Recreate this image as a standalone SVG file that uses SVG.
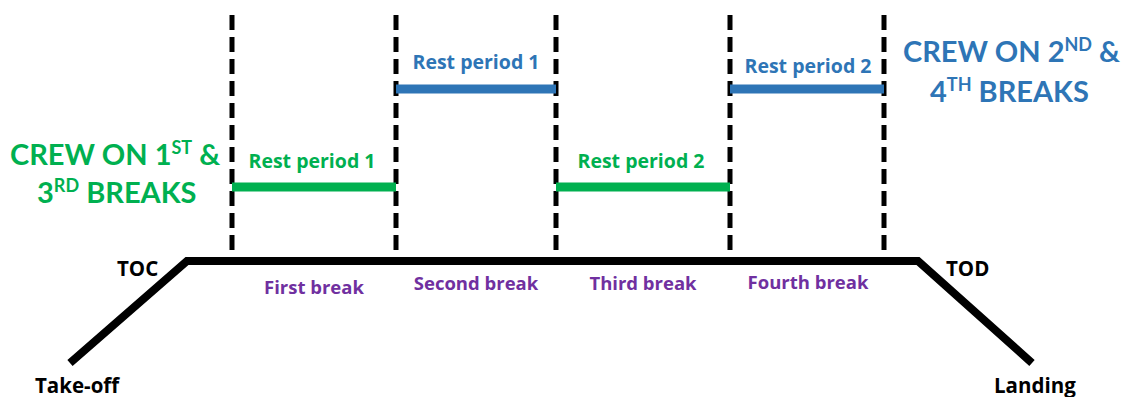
<svg xmlns="http://www.w3.org/2000/svg" width="1130" height="397" viewBox="0 0 1130 397">
<style>
text{font-family:"Open Sans",Lato,"Liberation Sans",sans-serif;font-weight:bold}
.blk{fill:#000;font-size:20.5px}
.pur{fill:#7030A0;font-size:18.5px}
.grn{fill:#00B050}
.blu{fill:#2E75B6}
.lbl{font-size:19.5px}
.big{font-family:Lato,"Open Sans",sans-serif;font-size:29px}
.dash{stroke:#000;stroke-width:5;stroke-dasharray:15 7;fill:none}
.gbar{stroke:#00B050;stroke-width:9}
.bbar{stroke:#2E75B6;stroke-width:9}
</style>
<rect width="1130" height="397" fill="#fff"/>
<g id="dividers">
<line class="dash" x1="232" y1="15" x2="232" y2="256"/>
<line class="dash" x1="396" y1="15" x2="396" y2="256"/>
<line class="dash" x1="556" y1="15" x2="556" y2="256"/>
<line class="dash" x1="730" y1="15" x2="730" y2="256"/>
<line class="dash" x1="884" y1="15" x2="884" y2="256"/>
</g>
<g id="flight-profile">
<polyline points="70,363 187,261 918,261 1032,363" fill="none" stroke="#000" stroke-width="8" stroke-linejoin="miter"/>
<text class="blk" x="117" y="276">TOC</text>
<text class="blk" x="946" y="276">TOD</text>
<text class="blk" x="35" y="393">Take-off</text>
<text class="blk" x="994" y="393">Landing</text>
</g>
<g id="breaks">
<text class="pur" x="314" y="294" text-anchor="middle">First break</text>
<text class="pur" x="476" y="290" text-anchor="middle">Second break</text>
<text class="pur" x="643" y="290" text-anchor="middle">Third break</text>
<text class="pur" x="808" y="289" text-anchor="middle">Fourth break</text>
</g>
<g id="crew-a">
<line class="gbar" x1="232" y1="187" x2="396" y2="187"/>
<text class="grn lbl" x="312" y="168" text-anchor="middle">Rest period 1</text>
<line class="gbar" x1="556" y1="187" x2="730" y2="187"/>
<text class="grn lbl" x="641" y="168" text-anchor="middle">Rest period 2</text>
<text class="grn big" x="10" y="165">CREW ON 1<tspan font-size="18" dy="-11">ST</tspan><tspan dy="11"> &amp;</tspan></text>
<text class="grn big" x="37" y="203">3<tspan font-size="18" dy="-11">RD</tspan><tspan dy="11"> BREAKS</tspan></text>
</g>
<g id="crew-b">
<line class="bbar" x1="396" y1="89" x2="556" y2="89"/>
<text class="blu lbl" x="476" y="69" text-anchor="middle">Rest period 1</text>
<line class="bbar" x1="730" y1="89" x2="884" y2="89"/>
<text class="blu lbl" x="808" y="73" text-anchor="middle">Rest period 2</text>
<text class="blu big" x="903" y="62">CREW ON 2<tspan font-size="18" dy="-11">ND</tspan><tspan dy="11"> &amp;</tspan></text>
<text class="blu big" x="930" y="102">4<tspan font-size="18" dy="-11">TH</tspan><tspan dy="11"> BREAKS</tspan></text>
</g>
</svg>
